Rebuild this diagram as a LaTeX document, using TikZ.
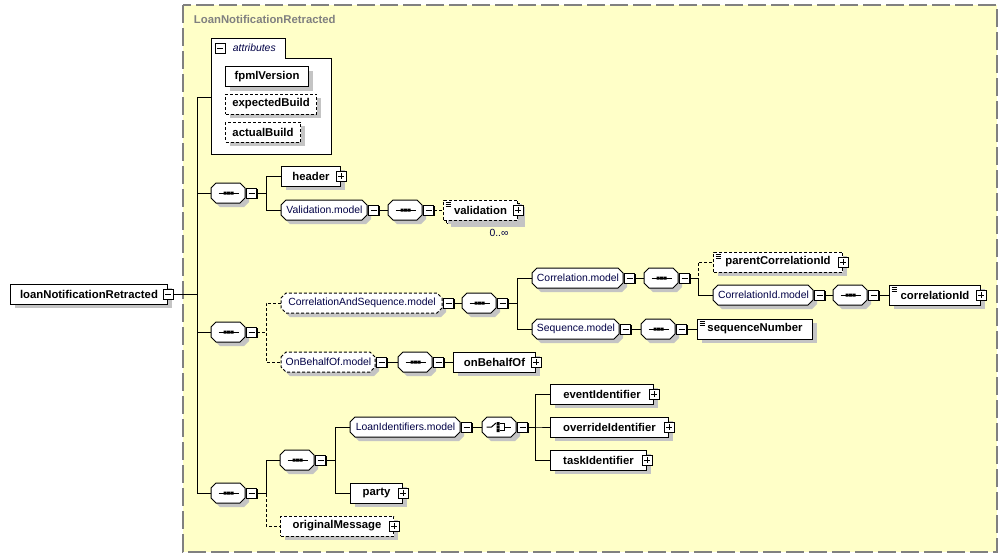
\documentclass[tikz,border=0pt]{standalone}
\usepackage{fontspec}
\setmainfont{Liberation Sans}
\usetikzlibrary{shadows}
\definecolor{frameyellow}{RGB}{255,255,200}
\definecolor{framegray}{RGB}{128,128,128}
\definecolor{shadowgray}{RGB}{196,196,196}
\definecolor{labelblue}{RGB}{0,0,70}

% octagonal model group box: [options]{name}{x}{y}{width}{text}
\newcommand{\modelgroup}[6][]{%
  \fill[shadowgray, shift={(4,4)}] ({#3},{#4-5}) -- ({#3+5},{#4-10}) -- ({#3+#5-5},{#4-10}) -- ({#3+#5},{#4-5})
    -- ({#3+#5},{#4+5}) -- ({#3+#5-5},{#4+10}) -- ({#3+5},{#4+10}) -- ({#3},{#4+5}) -- cycle;
  \draw[fill=white, #1] ({#3},{#4-5}) -- ({#3+5},{#4-10}) -- ({#3+#5-5},{#4-10}) -- ({#3+#5},{#4-5})
    -- ({#3+#5},{#4+5}) -- ({#3+#5-5},{#4+10}) -- ({#3+5},{#4+10}) -- ({#3},{#4+5}) -- cycle;
  \node[grplabel, minimum width=#5*0.75pt] (#2) at (#3,#4) {#6};
}
% sequence compositor: {name}{x}{y}
\newcommand{\seqgroup}[3]{%
  \modelgroup{#1}{#2}{#3}{34}{}
  \draw (#1.center) +(-10,0) -- +(10,0);
  \fill (#1.center) +(-5,-1.5) rectangle +(-2,1.5) +(-1.5,-1.5) rectangle +(1.5,1.5) +(2,-1.5) rectangle +(5,1.5);
}
% choice compositor: {name}{x}{y}
\newcommand{\choicegroup}[3]{%
  \modelgroup{#1}{#2}{#3}{34}{}
  \draw (#1.center) +(-13,0) -- +(-8,0) -- +(-3.5,-4);
  \fill (#1.center) +(-3,-5) rectangle +(0,-2) +(-3,-1.5) rectangle +(0,1.5) +(-3,2) rectangle +(0,5);
  \draw (#1.center) +(0,-3.5) -- +(4.5,-3.5) -- +(4.5,3.5) -- +(0,3.5) +(4.5,0) -- +(11,0);
}

\begin{document}
\begin{tikzpicture}[x=0.75pt, y=-0.75pt, line width=0.75pt,
  shade/.style={drop shadow={shadow xshift=3pt, shadow yshift=-3pt, fill=shadowgray, opacity=1}},
  elem/.style={shade, draw, fill=white, anchor=west, inner sep=0pt, minimum width=#1*0.75pt, minimum height=15pt, font=\fontsize{8.5}{10}\selectfont\bfseries},
  optelem/.style={elem=#1, dash pattern=on 2.25pt off 1.5pt},
  grplabel/.style={anchor=west, inner sep=0pt, minimum height=15pt, font=\fontsize{7.8}{10}\selectfont, text=labelblue},
  tind/.style={path picture={
    \draw[solid, black, line width=0.5pt] (path picture bounding box.north west) ++(2,2) -- ++(5,0) ++(-5,2) -- ++(5,0) ++(-5,2) -- ++(5,0);}},
  pm/.style={draw, solid, fill=white, inner sep=0pt, minimum size=7.5pt,
    drop shadow={shadow xshift=0.75pt, shadow yshift=-0.75pt, fill=black, opacity=1}},
  minusbox/.style={pm, path picture={\draw (path picture bounding box.center) +(-3,0) -- +(3,0);}},
  plusbox/.style={pm, path picture={\draw (path picture bounding box.center) +(-3,0) -- +(3,0) +(0,-3) -- +(0,3);}},
  opt/.style={dash pattern=on 2.25pt off 1.5pt}
]
  \useasboundingbox (0,0) rectangle (1008,558);
  % type frame
  \draw[framegray, fill=frameyellow, line width=1.5pt, dash pattern=on 13.5pt off 3.75pt] (183,5) rectangle (997,552);
  \node[anchor=west, text=framegray, font=\fontsize{8.5}{10}\selectfont\bfseries] (title) at (189,19) {LoanNotificationRetracted};

  % root
  \node[elem=157] (root) at (10,294) {loanNotificationRetracted};
  \node[minusbox] (rootm) at (root.east) {};

  % attributes
  \node[anchor=north west, fill=white, minimum width=89.25pt, minimum height=72pt] (attr) at (211.5,57) {};
  \node[anchor=north west, fill=white, minimum width=54.4pt, minimum height=14.25pt] (attrtab) at (211.5,38) {};
  \draw (attr.south west) |- (attrtab.north east) -- (attrtab.south east) -| (attr.south east) -- cycle;
  \node[minusbox] (attrm) at (220,48) {};
  \node[anchor=west, font=\fontsize{7.8}{10}\selectfont\itshape, text=labelblue] (attrlbl) at (228,47.5) {attributes};
  \coordinate (attrin) at (211.5,97);
  \node[elem=83] (fpml) at (225,76.5) {fpmlVersion};
  \node[optelem=91] (expb) at (225,104) {expectedBuild};
  \node[optelem=75] (actb) at (225,132) {actualBuild};

  % first sequence
  \seqgroup{s1}{211}{193}
  \node[minusbox, anchor=west] (s1m) at (s1.east) {};
  \node[elem=59] (hdr) at (281,176) {header};
  \node[plusbox] (hdrp) at (hdr.east) {};
  \modelgroup{valm}{281}{210}{86}{Validation.model}
  \node[minusbox, anchor=west] (valmm) at (valm.east) {};
  \seqgroup{s1a}{388}{210}
  \node[minusbox, anchor=west] (s1am) at (s1a.east) {};
  \node[optelem=74, fill=white] (valb) at (446,213) {};
  \node[optelem=74, drop shadow={opacity=0}, tind] (val) at (443,210) {validation};
  \node[plusbox] (valp) at (val.east) {};
  \node[font=\fontsize{7.8}{10}\selectfont, text=labelblue] (valocc) at (499,233) {0..∞};

  % second sequence
  \seqgroup{s2}{211}{332}
  \node[minusbox, anchor=west] (s2m) at (s2.east) {};
  \modelgroup[opt]{casm}{281}{303}{161}{CorrelationAndSequence.model}
  \node[minusbox, anchor=west] (casmm) at (casm.east) {};
  \seqgroup{s2a}{462}{303}
  \node[minusbox, anchor=west] (s2am) at (s2a.east) {};
  \modelgroup{corrm}{532}{278}{91}{Correlation.model}
  \node[minusbox, anchor=west] (corrmm) at (corrm.east) {};
  \seqgroup{s2b}{644}{278}
  \node[minusbox, anchor=west] (s2bm) at (s2b.east) {};
  \node[optelem=129, tind] (pcid) at (713,262) {parentCorrelationId};
  \node[plusbox] (pcidp) at (pcid.east) {};
  \modelgroup{cidm}{713}{295}{100}{CorrelationId.model}
  \node[minusbox, anchor=west] (cidmm) at (cidm.east) {};
  \seqgroup{s2c}{833}{295}
  \node[minusbox, anchor=west] (s2cm) at (s2c.east) {};
  \node[elem=91, tind] (cid) at (889,295) {correlationId};
  \node[plusbox] (cidp) at (cid.east) {};
  \modelgroup{seqm}{532}{329}{87}{Sequence.model}
  \node[minusbox, anchor=west] (seqmm) at (seqm.east) {};
  \seqgroup{s2d}{641}{329}
  \node[minusbox, anchor=west] (s2dm) at (s2d.east) {};
  \node[elem=115, tind] (seqn) at (697,329) {sequenceNumber};
  \modelgroup[opt]{obm}{281}{362}{94}{OnBehalfOf.model}
  \node[minusbox, anchor=west] (obmm) at (obm.east) {};
  \seqgroup{s2e}{398}{362}
  \node[minusbox, anchor=west] (s2em) at (s2e.east) {};
  \node[elem=82] (obo) at (453,362) {onBehalfOf};
  \node[plusbox] (obop) at (obo.east) {};

  % third sequence
  \seqgroup{s3}{211}{493}
  \node[minusbox, anchor=west] (s3m) at (s3.east) {};
  \seqgroup{s4}{280}{460}
  \node[minusbox, anchor=west] (s4m) at (s4.east) {};
  \modelgroup{lim}{350}{427}{110}{LoanIdentifiers.model}
  \node[minusbox, anchor=west] (limm) at (lim.east) {};
  \choicegroup{ch}{482}{427}
  \node[minusbox, anchor=west] (chm) at (ch.east) {};
  \node[elem=103] (evt) at (550,394) {eventIdentifier};
  \node[plusbox] (evtp) at (evt.east) {};
  \node[elem=118] (ovr) at (550,427) {overrideIdentifier};
  \node[plusbox] (ovrp) at (ovr.east) {};
  \node[elem=96] (task) at (550,460) {taskIdentifier};
  \node[plusbox] (taskp) at (task.east) {};
  \node[elem=52] (party) at (350,493) {party};
  \node[plusbox] (partyp) at (party.east) {};
  \node[optelem=113] (om) at (280,526) {originalMessage};
  \node[plusbox] (omp) at (om.east) {};

  % connectors
  \draw (rootm.east) -| ([xshift=-10.5pt]attrin) -- (attrin);
  \draw (rootm.east) -| ([xshift=-10.5pt]s1.west) -- (s1.west);
  \draw (rootm.east) -| ([xshift=-10.5pt]s2.west) -- (s2.west);
  \draw (rootm.east) -| ([xshift=-10.5pt]s3.west) -- (s3.west);

  \draw (s1m.east) -| ([xshift=-11.25pt]hdr.west) -- (hdr.west);
  \draw (s1m.east) -| ([xshift=-11.25pt]valm.west) -- (valm.west);
  \draw (valmm.east) -- (s1a.west);
  \draw[opt] (s1am.east) -- (val.west);

  \draw[opt] (s2m.east) -| ([xshift=-11.25pt]casm.west) -- (casm.west);
  \draw[opt] (s2m.east) -| ([xshift=-11.25pt]obm.west) -- (obm.west);
  \draw (casmm.east) -- (s2a.west);
  \draw (s2am.east) -| ([xshift=-11.25pt]corrm.west) -- (corrm.west);
  \draw (s2am.east) -| ([xshift=-11.25pt]seqm.west) -- (seqm.west);
  \draw (corrmm.east) -- (s2b.west);
  \draw[opt] (s2bm.east) -| ([xshift=-11.25pt]pcid.west) -- (pcid.west);
  \draw (s2bm.east) -| ([xshift=-11.25pt]cidm.west) -- (cidm.west);
  \draw (cidmm.east) -- (s2c.west);
  \draw (s2cm.east) -- (cid.west);
  \draw (seqmm.east) -- (s2d.west);
  \draw (s2dm.east) -- (seqn.west);
  \draw (obmm.east) -- (s2e.west);
  \draw (s2em.east) -- (obo.west);

  \draw (s3m.east) -| ([xshift=-10.5pt]s4.west) -- (s4.west);
  \draw[opt] (s3m.east) -| ([xshift=-10.5pt]om.west) -- (om.west);
  \draw (s4m.east) -| ([xshift=-11.25pt]lim.west) -- (lim.west);
  \draw (s4m.east) -| ([xshift=-11.25pt]party.west) -- (party.west);
  \draw (limm.east) -- (ch.west);
  \draw (chm.east) -| ([xshift=-11.25pt]evt.west) -- (evt.west);
  \draw (chm.east) -| ([xshift=-11.25pt]ovr.west) -- (ovr.west);
  \draw (chm.east) -| ([xshift=-11.25pt]task.west) -- (task.west);
\end{tikzpicture}
\end{document}
